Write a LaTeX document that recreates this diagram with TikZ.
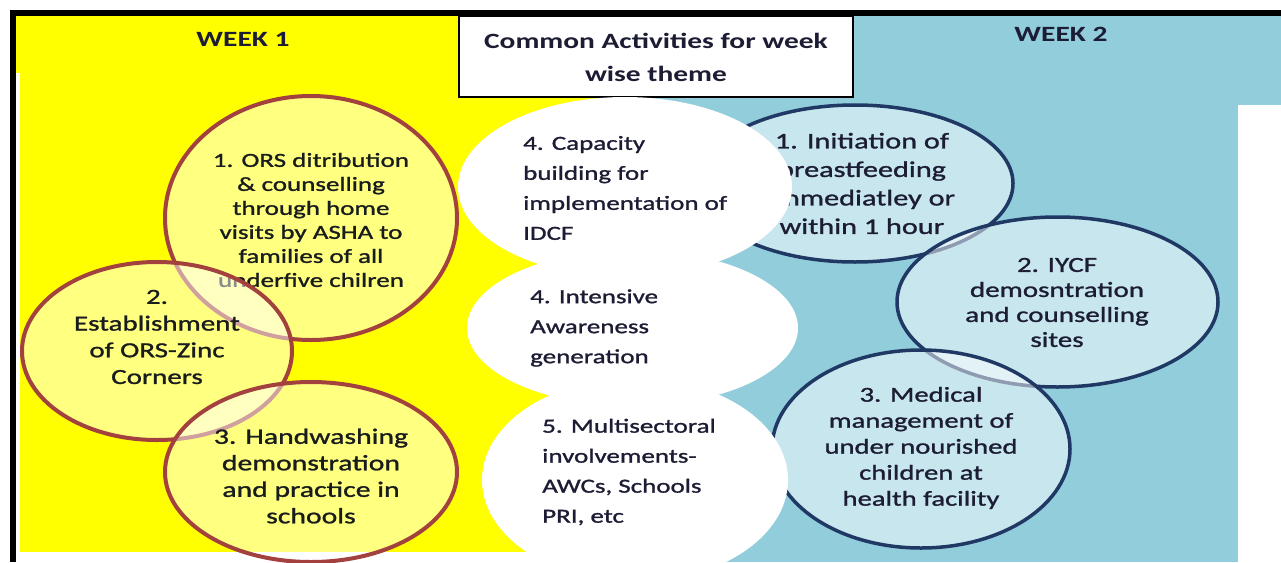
\documentclass[tikz,border=0pt]{standalone}
\usepackage{fontspec}
\setmainfont{Carlito}[FakeStretch=1.35, UprightFeatures={FakeBold=1.2}]
\usetikzlibrary{shapes.geometric}
\definecolor{wkyellow}{RGB}{255,255,0}
\definecolor{wkblue}{RGB}{146,205,220}
\definecolor{lborder}{RGB}{162,65,62}
\definecolor{rborder}{RGB}{31,56,100}
\definecolor{txtdark}{RGB}{24,28,28}
\definecolor{txtnavy}{RGB}{28,28,52}
\begin{document}
\begin{tikzpicture}[x=1pt,y=-1pt,
  lell/.style={ellipse, draw=lborder, line width=4pt, fill=white, fill opacity=0.5, inner sep=0pt},
  rell/.style={ellipse, draw=rborder, line width=3.5pt, fill=white, fill opacity=0.5, inner sep=0pt},
  well/.style={ellipse, fill=white, inner sep=0pt},
  esize/.style 2 args={minimum width=#1pt, minimum height=#2pt},
  ctext/.style={align=center, inner sep=0pt, text=txtdark},
  rtext/.style={align=center, inner sep=0pt, text=txtnavy},
  mtext/.style={align=left, anchor=west, inner sep=0pt, text=txtnavy, font=\fontsize{20}{30}\selectfont},
  headtext/.style={align=center, inner sep=0pt, text=txtnavy, font=\bfseries\fontsize{21.8}{33}\selectfont}
]
\useasboundingbox (0,0) rectangle (1281,562);
% backgrounds
\fill[white] (0,0) rectangle (1281,562);
\fill[wkyellow] (16,16) rectangle (640,552);
\fill[wkblue] (640,16) rectangle (1281,105);
\fill[wkblue] (640,105) rectangle (1238,562);
\fill[white] (16,73) rectangle (20,552);
% frame
\fill[black] (10,10) rectangle (1281,16);
\fill[black] (10,10) rectangle (16,562);
% header
\node[draw=black, line width=1.5pt, fill=white, minimum width=394pt, minimum height=81pt, inner sep=0pt] (head) at (656,56.5) {};
\node[headtext] (headlbl) at (656,57.5) {Common Activities for week\\wise theme};
\node[headtext] (week1) at (243,39) {WEEK 1};
\node[headtext] (week2) at (1061,34) {WEEK 2};
% week 1 ellipses
\node[lell, esize={292}{244}] (e1) at (311,218) {};
\node[ctext, font=\fontsize{20}{24}\selectfont] (t1) at (311,220) {1. ORS ditribution\\\& counselling\\through home\\visits by ASHA to\\families of all\\underfive chilren};
\node[lell, esize={270}{178}] (e2) at (157,351) {};
\node[ctext, font=\fontsize{21.5}{26.7}\selectfont] (t2) at (157,337) {2.\\Establishment\\of ORS-Zinc\\Corners};
\node[lell, esize={292}{180}] (e3) at (311,472) {};
\node[ctext, font=\fontsize{22}{26.5}\selectfont] (t3) at (311,476) {3. Handwashing\\demonstration\\and practice in\\schools};
% week 2 ellipses
\node[rell, esize={316}{157}] (r1) at (855,183.5) {};
\node[rtext, font=\fontsize{22.4}{28.5}\selectfont] (s1) at (862,183.5) {1. Initiation of\\breastfeeding\\immediatley or\\within 1 hour};
\node[rell, esize={321}{170}] (r2) at (1057.5,302) {};
\node[rtext, font=\fontsize{21.5}{25}\selectfont] (s2) at (1057,302.5) {2. IYCF\\demosntration\\and counselling\\sites};
\node[rell, esize={298}{198}] (r3) at (921,449) {};
\node[rtext, font=\fontsize{21.2}{26}\selectfont] (s3) at (921,448) {3. Medical\\management of\\under nourished\\children at\\health facility};
% common activities
\node[well, esize={334}{180}] (w1) at (625,187) {};
\node[well, esize={331}{156}] (w2) at (632.5,328) {};
\node[well, esize={306}{204}] (w3) at (635,480) {};
\node[mtext] (m1) at (523,188) {4. Capacity\\building for\\implementation of\\IDCF};
\node[mtext] (m2) at (530,328) {4. Intensive\\Awareness\\generation};
\node[mtext] (m3) at (542,472) {5. Multisectoral\\involvements-\\AWCs, Schools\\PRI, etc};
\end{tikzpicture}
\end{document}
